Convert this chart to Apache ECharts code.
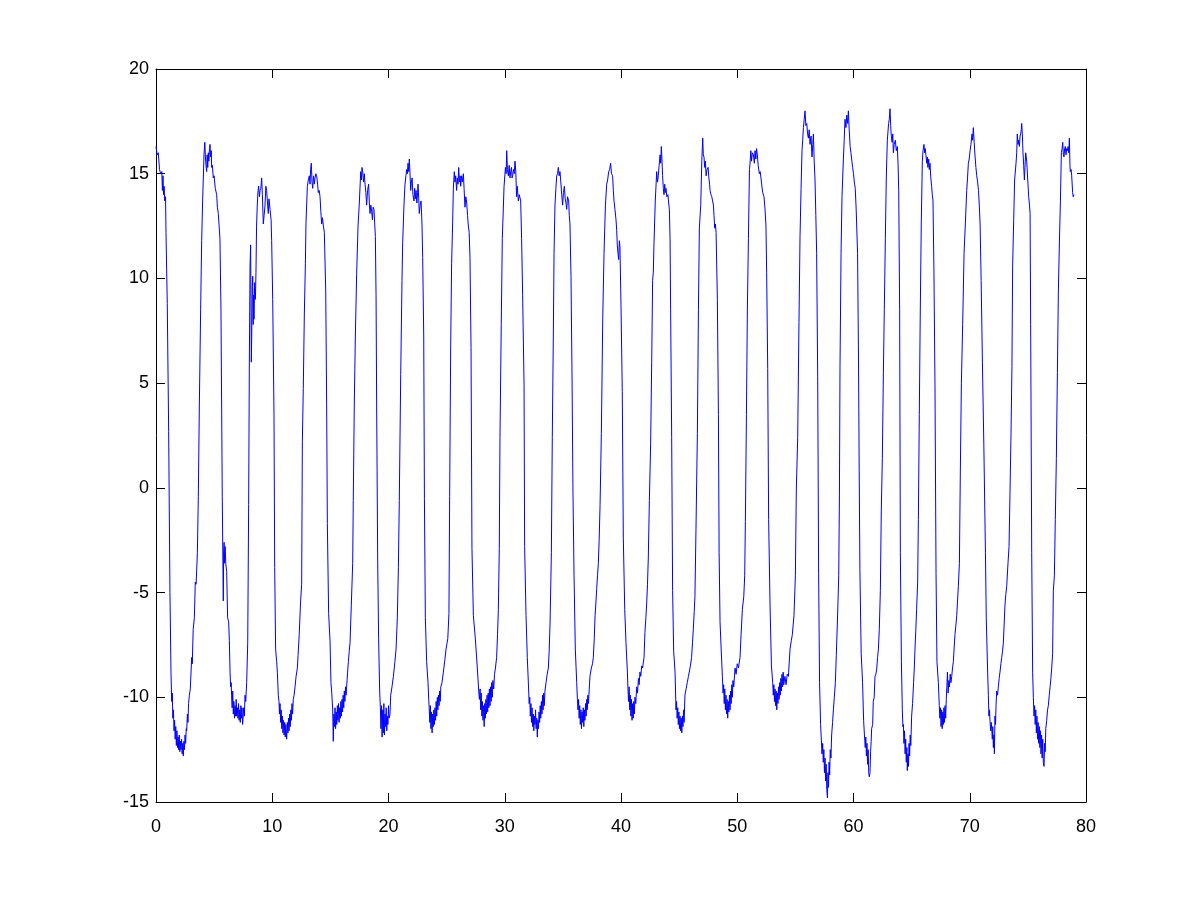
<!DOCTYPE html>
<html>
<head>
<meta charset="utf-8">
<script src="https://cdn.jsdelivr.net/npm/echarts@6/dist/echarts.min.js"></script>
<style>
html,body{margin:0;padding:0;background:#fff;}
#chart{width:1200px;height:901px;}
</style>
</head>
<body>
<div id="chart"></div>
<script>
// x ticks and y ticks
const xTicks = [0, 10, 20, 30, 40, 50, 60, 70, 80];
const yTicks = [-15, -10, -5, 0, 5, 10, 15, 20];

// Signal samples: time (s) and value
const timeData = [
0.0,0.1,0.2,0.3,0.4,0.5,0.55,0.6,0.65,0.7,0.75,0.82,0.86,0.97,1.09,1.2,1.29,1.35,1.4,1.45,1.5,1.55,1.6,1.65,1.7,1.75,1.8,1.85,1.9,1.95,2.0,2.05,2.1,2.15,2.2,2.25,2.3,2.35,2.4,2.45,2.5,2.55,2.6,2.64,2.7,2.75,2.8,2.87,2.95,3.07,3.12,3.2,3.3,3.38,3.45,3.56,3.64,3.73,3.84,3.93,4.01,4.13,4.2,4.25,4.3,4.36,4.4,4.45,4.5,4.55,4.6,4.65,4.7,4.75,4.79,4.85,4.93,5.0,5.1,5.22,5.28,5.36,5.5,5.59,5.7,5.79,5.82,5.86,5.9,5.95,6.0,6.08,6.16,6.25,6.31,6.37,6.42,6.47,6.5,6.55,6.6,6.65,6.7,6.75,6.8,6.85,6.9,6.94,7.0,7.05,7.1,7.15,7.2,7.25,7.3,7.35,7.4,7.45,7.51,7.55,7.6,7.66,7.72,7.8,7.89,7.97,8.03,8.09,8.14,8.17,8.2,8.24,8.28,8.32,8.36,8.4,8.43,8.48,8.55,8.6,8.65,8.72,8.78,8.83,8.9,8.95,9.02,9.09,9.15,9.23,9.3,9.38,9.45,9.52,9.58,9.66,9.72,9.81,9.9,9.95,10.04,10.15,10.21,10.29,10.38,10.44,10.52,10.58,
10.62,10.67,10.72,10.77,10.82,10.87,10.92,10.97,11.02,11.07,11.12,11.17,11.24,11.3,11.35,11.4,11.45,11.5,11.55,11.6,11.65,11.7,11.75,11.81,11.88,11.96,12.05,12.16,12.22,12.32,12.44,12.53,12.59,12.67,12.76,12.85,12.9,13.02,13.1,13.19,13.25,13.3,13.36,13.42,13.48,13.55,13.62,13.68,13.75,13.82,13.9,13.96,14.04,14.11,14.18,14.25,14.32,14.4,14.48,14.6,14.68,14.74,14.85,14.97,15.05,15.12,15.2,15.25,15.3,15.35,15.4,15.45,15.5,15.55,15.6,15.65,15.7,15.75,15.8,15.85,15.9,15.95,16.0,16.05,16.1,16.15,16.2,16.25,16.3,16.35,16.4,16.48,16.55,16.62,16.69,16.8,16.92,16.97,17.06,17.15,17.26,17.38,17.49,17.61,17.67,17.72,17.78,17.85,17.92,17.98,18.05,18.12,18.2,18.29,18.35,18.41,18.48,18.55,18.62,18.68,18.75,18.87,18.93,18.98,19.07,19.15,19.24,19.3,19.35,19.4,19.45,19.5,19.55,19.6,19.65,19.7,19.75,19.8,19.85,19.9,19.95,20.0,20.05,20.13,20.19,20.3,20.42,20.55,20.65,20.76,20.85,20.93,
21.05,21.16,21.22,21.33,21.42,21.5,21.56,21.62,21.68,21.74,21.79,21.85,21.91,21.97,22.03,22.1,22.19,22.25,22.31,22.37,22.44,22.5,22.54,22.6,22.65,22.72,22.8,22.88,22.94,23.03,23.09,23.17,23.28,23.4,23.46,23.5,23.55,23.6,23.65,23.7,23.75,23.8,23.85,23.9,23.95,24.0,24.05,24.1,24.15,24.2,24.25,24.3,24.35,24.4,24.45,24.5,24.6,24.72,24.85,24.95,25.1,25.2,25.26,25.35,25.43,25.52,25.58,25.66,25.72,25.78,25.86,25.92,25.98,26.04,26.1,26.16,26.21,26.28,26.35,26.44,26.5,26.58,26.65,26.73,26.8,26.87,26.94,27.01,27.1,27.18,27.3,27.47,27.64,27.76,27.82,27.88,27.93,27.98,28.03,28.08,28.13,28.18,28.23,28.28,28.33,28.38,28.43,28.48,28.53,28.58,28.63,28.68,28.73,28.78,28.83,28.88,28.93,28.98,29.05,29.12,29.2,29.3,29.38,29.45,29.53,29.59,29.7,29.79,29.94,30.06,30.12,30.17,30.23,30.31,30.38,30.45,30.51,30.58,30.63,30.68,30.75,30.82,30.88,30.95,31.02,31.08,31.17,31.25,31.37,31.45,31.54,31.66,31.71,31.83,31.94,
32.06,32.1,32.15,32.2,32.25,32.3,32.35,32.4,32.45,32.5,32.55,32.6,32.65,32.7,32.75,32.8,32.85,32.9,32.95,33.0,33.05,33.1,33.15,33.2,33.25,33.3,33.35,33.4,33.46,33.55,33.65,33.75,33.82,33.9,34.01,34.09,34.18,34.24,34.32,34.4,34.47,34.54,34.61,34.68,34.75,34.81,34.9,34.98,35.05,35.13,35.2,35.27,35.33,35.4,35.5,35.55,35.61,35.7,35.79,35.87,35.96,36.07,36.19,36.25,36.3,36.35,36.4,36.45,36.5,36.55,36.6,36.65,36.7,36.75,36.8,36.85,36.9,36.95,37.0,37.05,37.1,37.15,37.2,37.27,37.33,37.45,37.55,37.62,37.7,37.77,37.84,37.91,37.98,38.05,38.12,38.2,38.31,38.43,38.54,38.66,38.77,38.85,38.94,39.02,39.11,39.18,39.28,39.34,39.4,39.48,39.57,39.63,39.68,39.74,39.8,39.86,39.91,40.0,40.11,40.2,40.32,40.43,40.55,40.6,40.65,40.7,40.75,40.8,40.85,40.9,40.95,41.0,41.05,41.1,41.15,41.2,41.27,41.35,41.42,41.5,41.56,41.63,41.7,41.78,41.86,41.98,42.06,42.14,42.21,42.28,42.35,42.44,42.55,42.64,42.72,42.78,42.84,42.95,
43.07,43.14,43.21,43.28,43.36,43.42,43.47,43.53,43.58,43.64,43.7,43.76,43.82,43.87,43.94,44.04,44.1,44.16,44.22,44.27,44.36,44.44,44.53,44.65,44.73,44.78,44.83,44.88,44.93,44.98,45.03,45.08,45.13,45.18,45.23,45.28,45.33,45.38,45.43,45.5,45.6,45.7,45.8,45.87,45.97,46.07,46.15,46.22,46.3,46.36,46.45,46.57,46.66,46.74,46.86,46.95,47.03,47.08,47.14,47.2,47.26,47.32,47.4,47.49,47.56,47.62,47.66,47.74,47.81,47.88,47.95,48.0,48.06,48.12,48.18,48.29,48.38,48.44,48.52,48.61,48.72,48.78,48.83,48.88,48.93,48.98,49.03,49.08,49.13,49.18,49.23,49.28,49.33,49.38,49.43,49.48,49.53,49.58,49.63,49.7,49.81,49.9,50.0,50.1,50.24,50.33,50.44,50.56,50.64,50.7,50.79,50.87,50.96,51.05,51.1,51.17,51.23,51.3,51.4,51.47,51.53,51.6,51.66,51.73,51.8,51.9,51.97,52.04,52.12,52.19,52.3,52.39,52.47,52.53,52.62,52.7,52.82,52.94,53.05,53.1,53.15,53.2,53.25,53.3,53.35,53.4,53.45,53.5,53.55,53.6,53.65,53.7,53.75,53.8,53.85,53.9,53.95,54.0,54.1,54.2,54.3,54.4,54.54,54.65,54.74,54.88,55.0,55.08,55.2,55.31,55.4,55.49,55.57,55.63,55.69,55.76,55.83,55.9,55.98,56.05,56.12,56.19,56.26,56.35,56.43,56.5,56.55,56.62,56.69,56.76,56.83,56.92,57.0,57.08,57.17,57.29,
57.35,57.4,57.45,57.5,57.55,57.6,57.65,57.7,57.76,57.8,57.85,57.9,57.95,58.0,58.06,58.12,58.2,58.27,58.35,58.44,58.52,58.61,58.73,58.79,58.84,58.93,59.01,59.13,59.2,59.27,59.35,59.42,59.5,59.56,59.63,59.71,59.78,59.86,59.93,60.0,60.07,60.15,60.23,60.35,60.43,60.49,60.55,60.66,60.78,60.87,60.94,61.01,61.06,61.11,61.16,61.21,61.26,61.31,61.36,61.42,61.47,61.52,61.56,61.65,61.7,61.78,61.85,61.92,61.99,62.07,62.14,62.22,62.31,62.39,62.48,62.57,62.65,62.74,62.82,62.91,63.02,63.08,63.14,63.2,63.25,63.32,63.38,63.43,63.5,63.6,63.68,63.77,63.83,63.89,63.97,64.03,64.12,64.2,64.25,64.29,64.34,64.39,64.44,64.49,64.54,64.59,64.63,64.68,64.73,64.78,64.83,64.88,64.93,65.0,65.08,65.17,65.23,65.29,65.36,65.43,65.52,65.58,65.66,65.74,65.83,65.92,65.98,66.06,66.12,66.17,66.23,66.3,66.35,66.4,66.47,66.52,66.58,66.65,66.72,66.78,66.84,66.92,67.01,67.1,67.18,67.3,67.38,67.43,67.48,67.53,67.58,67.63,67.68,67.73,67.78,67.83,67.88,67.93,67.98,68.03,68.08,68.14,68.2,68.25,68.32,68.38,68.45,68.52,68.59,68.66,68.73,68.8,68.88,68.95,69.02,69.11,69.19,69.28,69.39,69.51,69.62,69.74,69.81,69.88,69.95,70.03,70.1,70.2,70.25,70.31,70.38,70.46,70.53,70.6,70.68,70.75,70.82,70.89,70.98,71.09,71.21,71.35,71.42,71.54,71.6,71.65,71.7,71.74,71.8,71.85,71.89,71.94,71.98,72.03,72.08,72.12,72.17,72.22,72.26,72.32,72.39,72.46,72.53,72.6,72.68,72.75,72.82,72.89,72.96,73.03,73.1,73.18,73.29,73.38,73.46,73.55,73.63,73.69,73.78,73.86,73.98,
74.04,74.09,74.15,74.21,74.27,74.33,74.38,74.43,74.47,74.53,74.58,74.64,74.7,74.75,74.81,74.86,74.9,74.99,75.07,75.14,75.19,75.24,75.33,75.41,75.47,75.53,75.58,75.63,75.68,75.73,75.78,75.83,75.88,75.93,75.98,76.03,76.08,76.13,76.18,76.23,76.28,76.33,76.39,76.44,76.49,76.54,76.62,76.69,76.76,76.84,76.91,76.98,77.05,77.13,77.19,77.28,77.36,77.45,77.54,77.62,77.71,77.8,77.88,77.94,78.0,78.05,78.11,78.16,78.22,78.28,78.34,78.4,78.46,78.52,78.57,78.62,78.65,78.72,78.77,78.85,78.9,78.97
];

const valueData = [
16.3,15.9,16.0,15.2,15.0,15.1,14.2,14.9,14.0,14.4,13.7,13.9,12.2,8.8,2.7,-5.0,-8.8,-10.2,-9.8,-11.0,-10.6,-11.6,-11.1,-12.0,-11.4,-12.3,-11.6,-12.4,-11.9,-12.5,-11.8,-12.6,-12.1,-12.5,-12.0,-12.7,-12.2,-12.8,-12.1,-12.5,-11.8,-12.2,-11.5,-11.6,-10.8,-11.2,-10.3,-9.9,-9.6,-8.1,-8.4,-6.75,-6.2,-4.5,-4.6,-3.1,-0.4,4.0,8.5,11.8,13.7,15.9,16.5,15.8,15.4,15.1,15.9,15.3,16.0,15.6,16.2,16.4,15.8,16.1,15.3,15.4,14.8,14.9,14.3,14.0,13.4,13.1,11.9,8.5,-0.4,-5.4,-3.0,-2.6,-3.6,-2.8,-3.6,-4.0,-6.2,-6.4,-7.3,-8.8,-9.5,-9.3,-9.9,-10.5,-9.7,-10.8,-10.2,-11.0,-10.4,-10.9,-10.1,-10.9,-10.5,-11.0,-10.3,-11.1,-10.6,-11.2,-10.4,-11.0,-10.5,-11.3,-11.3,-10.5,-10.9,-9.9,-10.2,-9.3,-7.4,-0.8,6.0,10.6,11.6,9.0,6.0,7.5,9.6,10.1,7.8,9.2,8.05,9.8,9.0,10.3,12.5,13.6,14.2,14.4,13.9,14.2,14.3,14.8,14.0,12.6,13.0,13.5,14.4,14.2,13.7,13.1,13.8,13.3,12.8,11.8,9.0,3.5,-3.8,-7.7,-8.3,-8.8,-9.9,-10.2,
-10.8,-10.3,-11.2,-10.6,-11.5,-10.9,-11.7,-11.1,-11.8,-11.2,-11.9,-11.3,-12.0,-11.2,-11.7,-11.0,-11.6,-10.8,-11.4,-10.6,-11.1,-10.3,-10.8,-10.1,-9.9,-9.5,-9.0,-8.6,-8.0,-7.0,-5.4,-4.6,2.2,4.75,8.3,10.7,12.6,14.4,14.7,14.9,14.5,15.2,15.5,14.6,14.3,14.9,14.5,14.8,15.0,14.9,14.5,14.1,14.2,13.9,13.2,12.6,12.9,12.5,12.2,9.4,4.0,-1.7,-6.0,-7.3,-9.3,-9.8,-10.6,-12.1,-10.8,-11.4,-10.5,-11.5,-10.7,-11.3,-10.4,-11.1,-10.3,-11.2,-10.5,-11.0,-10.2,-10.9,-10.1,-10.7,-9.9,-10.5,-9.7,-10.2,-9.5,-9.9,-9.5,-8.8,-8.3,-7.8,-7.4,-5.6,-3.6,-0.6,4.1,7.3,10.2,12.5,13.6,15.1,14.7,15.3,15.1,14.6,15.0,14.5,14.1,13.5,14.2,14.5,13.6,13.1,13.5,13.2,12.8,13.4,13.3,12.0,9.2,4.0,-3.5,-7.2,-9.7,-10.5,-11.5,-10.4,-11.9,-10.6,-11.7,-10.3,-11.8,-10.8,-11.4,-10.5,-11.6,-10.9,-11.3,-10.4,-11.0,-10.8,-9.9,-9.5,-9.0,-8.3,-7.7,-6.2,-3.8,-0.6,
5.4,9.9,11.7,13.5,14.5,14.9,15.2,15.0,15.5,15.1,15.7,15.0,14.2,14.6,14.8,14.0,13.7,14.3,13.8,14.2,13.6,14.1,14.5,13.8,13.1,13.5,13.7,12.6,11.0,7.3,-0.5,-6.2,-8.3,-9.3,-10.1,-10.5,-11.2,-10.4,-11.5,-10.7,-11.7,-10.8,-11.4,-10.6,-11.3,-10.5,-11.1,-10.2,-10.9,-10.0,-10.6,-9.9,-10.4,-9.7,-10.2,-9.5,-9.3,-8.8,-8.2,-7.7,-7.2,-6.0,-0.4,6.8,10.7,12.7,14.3,15.1,14.6,14.9,14.2,14.8,14.5,15.3,14.6,14.9,14.4,14.9,14.6,15.0,14.3,13.4,13.9,13.6,13.0,12.5,12.2,11.0,6.7,-2.9,-6.1,-7.2,-8.6,-9.7,-10.1,-9.6,-10.6,-9.8,-10.9,-10.2,-11.1,-10.4,-11.4,-10.3,-11.0,-10.1,-10.8,-9.9,-10.7,-9.8,-10.5,-9.6,-10.4,-9.5,-10.2,-9.3,-10.0,-9.2,-9.6,-8.9,-8.6,-8.1,-7.0,-5.8,-2.9,2.4,7.8,11.9,14.4,15.3,15.0,16.1,15.2,14.9,15.4,14.8,15.1,15.3,14.8,14.9,15.2,15.0,15.6,15.1,13.9,14.4,13.7,14.0,13.7,11.9,9.2,4.9,-2.8,-6.1,-8.1,
-9.7,-10.3,-10.0,-10.9,-10.3,-11.2,-10.5,-11.4,-10.8,-11.6,-10.9,-11.3,-10.6,-11.5,-11.0,-11.9,-11.1,-11.5,-10.7,-11.2,-10.4,-11.0,-10.2,-10.8,-9.9,-10.6,-9.8,-10.4,-9.7,-9.3,-8.9,-8.6,-7.8,-6.4,-3.1,2.4,7.3,11.2,13.5,14.3,14.9,15.0,15.3,14.9,15.1,14.7,14.0,13.5,14.1,14.4,13.8,13.6,13.3,13.9,13.7,13.0,12.6,10.1,5.2,-0.3,-4.2,-7.7,-9.3,-10.1,-10.6,-10.1,-11.0,-10.4,-11.3,-10.6,-11.5,-10.7,-11.2,-10.5,-11.4,-10.6,-11.1,-10.3,-10.9,-10.1,-10.6,-9.9,-10.3,-9.6,-9.0,-8.6,-8.4,-8.1,-7.2,-6.1,-5.5,-4.8,-4.2,-3.6,-2.5,-0.8,2.6,8.1,11.2,13.5,14.5,14.7,15.1,15.2,15.5,15.0,14.9,14.2,13.7,13.3,12.8,12.3,11.6,11.2,10.9,11.8,11.5,8.7,4.6,-2.4,-5.8,-7.4,-8.8,-9.6,-10.2,-9.5,-10.6,-9.9,-10.9,-10.1,-11.1,-10.3,-11.0,-10.2,-10.8,-10.0,-10.3,-9.5,-9.8,-9.1,-9.4,-8.8,-9.0,-8.5,-8.6,-8.1,-6.9,-6.2,-5.5,-4.6,-3.3,-0.6,2.1,6.0,9.9,10.3,11.7,13.7,
15.1,14.6,14.9,15.4,15.9,15.5,16.3,15.6,14.9,14.3,14.0,14.5,14.1,14.3,13.9,14.0,13.6,13.3,11.9,8.5,2.4,-4.9,-7.8,-8.8,-10.6,-10.2,-11.0,-10.5,-11.3,-10.7,-11.5,-10.9,-11.6,-11.0,-11.7,-10.9,-11.4,-10.6,-11.2,-9.9,-9.6,-9.3,-9.0,-8.8,-8.5,-8.1,-7.4,-6.75,-5.9,-5.2,-2.0,2.6,8.5,12.4,13.5,15.6,16.7,15.9,15.8,15.3,15.6,14.9,15.2,15.3,14.8,14.5,14.2,14.0,13.9,13.7,13.5,13.0,12.4,12.6,12.2,9.0,3.5,-3.1,-6.4,-7.6,-9.0,-9.8,-9.4,-10.3,-9.6,-10.6,-9.9,-10.8,-10.1,-11.0,-10.2,-10.7,-9.9,-10.6,-9.7,-10.3,-9.4,-10.0,-9.2,-9.5,-8.6,-8.9,-8.4,-8.6,-8.1,-7.0,-5.8,-5.2,-4.2,-1.6,3.5,8.5,11.9,15.2,15.5,16.1,15.6,16.0,15.9,15.5,16.1,15.7,16.2,15.9,15.4,15.0,15.1,14.8,14.4,14.1,13.9,13.3,12.5,10.3,5.7,-1.5,-5.6,-8.5,-9.3,-9.9,-9.4,-10.2,-9.6,-10.4,-9.7,-10.6,-9.8,-10.3,-9.5,-10.1,-9.3,-9.9,-9.1,-9.7,-8.9,-9.5,-8.8,-9.4,-9.0,-9.4,-8.9,-9.0,-7.7,-7.3,-7.0,-6.1,-4.2,-0.1,2.4,7.9,12.0,14.3,16.1,16.6,17.2,17.6,18.0,17.3,17.4,16.9,16.7,17.1,16.4,16.8,15.8,16.4,16.9,15.6,14.7,13.0,11.2,5.3,-4.1,-9.3,-11.3,-12.7,
-12.2,-13.1,-12.5,-13.6,-12.9,-14.0,-13.2,-14.4,-14.8,-13.6,-14.3,-13.1,-13.7,-12.5,-12.9,-11.8,-11.2,-10.6,-10.0,-9.3,-8.0,-6.5,-4.2,-0.3,5.8,11.2,13.9,15.7,16.6,17.6,17.2,17.8,17.4,18.0,17.1,16.3,16.0,15.6,15.3,15.0,14.6,14.3,13.3,11.2,6.2,0.8,-3.9,-7.9,-9.3,-11.1,-11.8,-12.4,-11.9,-12.8,-12.2,-13.2,-12.5,-13.6,-13.8,-13.6,-12.6,-12.1,-11.5,-11.3,-10.2,-10.0,-9.0,-8.9,-8.7,-8.1,-7.7,-6.75,-4.9,-1.1,1.4,5.5,8.5,11.9,14.8,16.6,17.4,17.6,18.1,17.3,16.8,16.5,16.9,16.0,16.4,16.6,16.1,16.3,15.5,14.2,8.5,-3.1,-8.3,-10.6,-11.4,-11.3,-12.2,-11.6,-12.7,-12.0,-13.1,-12.4,-13.5,-12.7,-13.3,-12.2,-12.8,-11.8,-12.3,-10.9,-10.3,-9.3,-8.6,-7.7,-6.8,-5.8,-4.5,-1.5,3.5,8.2,12.6,15.6,16.1,16.4,16.0,16.2,15.9,15.5,15.8,15.3,15.7,15.2,15.5,14.8,14.4,14.0,13.7,10.3,4.9,-4.1,-8.3,-9.3,-10.4,-11.0,-10.5,-11.4,-10.6,-11.5,-10.7,-11.3,-10.5,-11.2,-10.4,-11.0,-10.1,-9.5,-8.8,-9.8,-9.2,-9.5,-8.9,-9.3,-9.0,-8.6,-8.3,-7.6,-7.0,-6.6,-6.1,-5.4,-4.7,-3.6,0.8,5.0,7.8,11.2,12.6,14.2,14.8,15.5,15.7,16.1,16.4,16.9,16.6,17.2,16.5,15.8,15.3,14.9,14.6,14.2,13.5,12.6,9.9,6.0,2.1,-3.1,-6.2,-8.8,-9.9,-10.9,-10.6,-11.1,-11.6,-11.2,-11.5,-12.0,-11.4,-12.4,-11.8,-12.7,-10.9,-11.3,-10.4,-9.7,-9.9,-9.5,-9.1,-8.8,-8.4,-8.1,-7.8,-7.4,-6.5,-5.6,-5.1,-4.7,-3.6,-2.8,-0.3,2.6,5.8,10.6,12.8,14.7,15.5,
16.0,16.9,16.4,16.6,16.3,16.8,16.9,17.1,17.4,16.8,16.0,15.4,14.7,15.3,16.0,15.8,15.6,14.7,13.9,13.5,13.1,7.8,-3.1,-8.8,-10.0,-10.9,-10.4,-11.3,-10.6,-11.7,-10.9,-12.0,-11.2,-12.2,-11.4,-12.4,-11.6,-12.7,-11.8,-12.9,-12.0,-13.1,-13.3,-12.2,-12.6,-11.5,-11.1,-10.6,-10.4,-9.9,-9.5,-9.1,-8.6,-7.9,-4.9,-4.2,-1.5,1.4,5.5,9.3,11.7,13.7,16.0,16.2,16.5,15.9,15.8,16.2,16.3,15.9,16.2,16.1,16.3,16.0,16.7,15.4,15.1,15.2,14.9,14.1,13.9,14.0
];

const seriesData = timeData.map((t, i) => [t, valueData[i]]);

const chart = echarts.init(document.getElementById('chart'), null, {renderer: 'canvas'});
const labelStyle = {color: '#000', fontSize: 18, fontFamily: 'Liberation Sans, Arial, sans-serif'};
const lineStyle = {color: '#000', width: 1};

chart.setOption({
  animation: false,
  backgroundColor: '#fff',
  grid: {left: 156, right: 114, top: 69, bottom: 99, containLabel: false},
  xAxis: [
    {type: 'value', min: xTicks[0], max: xTicks[xTicks.length - 1], interval: 10, position: 'bottom',
     axisLine: {show: true, onZero: false, lineStyle: lineStyle},
     axisTick: {show: true, inside: true, length: 9, lineStyle: lineStyle},
     axisLabel: Object.assign({margin: 16}, labelStyle),
     splitLine: {show: false}},
    {type: 'value', min: xTicks[0], max: xTicks[xTicks.length - 1], interval: 10, position: 'top',
     axisLine: {show: true, onZero: false, lineStyle: lineStyle},
     axisTick: {show: true, inside: true, length: 9, lineStyle: lineStyle},
     axisLabel: {show: false}, splitLine: {show: false}}
  ],
  yAxis: [
    {type: 'value', min: yTicks[0], max: yTicks[yTicks.length - 1], interval: 5, position: 'left',
     axisLine: {show: true, onZero: false, lineStyle: lineStyle},
     axisTick: {show: true, inside: true, length: 9, lineStyle: lineStyle},
     axisLabel: Object.assign({margin: 7}, labelStyle),
     splitLine: {show: false}},
    {type: 'value', min: yTicks[0], max: yTicks[yTicks.length - 1], interval: 5, position: 'right',
     axisLine: {show: true, onZero: false, lineStyle: lineStyle},
     axisTick: {show: true, inside: true, length: 9, lineStyle: lineStyle},
     axisLabel: {show: false}, splitLine: {show: false}}
  ],
  series: [{
    type: 'line',
    xAxisIndex: 0, yAxisIndex: 0,
    data: seriesData,
    showSymbol: false,
    symbol: 'none',
    clip: true,
    lineStyle: {color: '#0000ff', width: 1},
    z: 1
  }]
});
</script>
</body>
</html>
